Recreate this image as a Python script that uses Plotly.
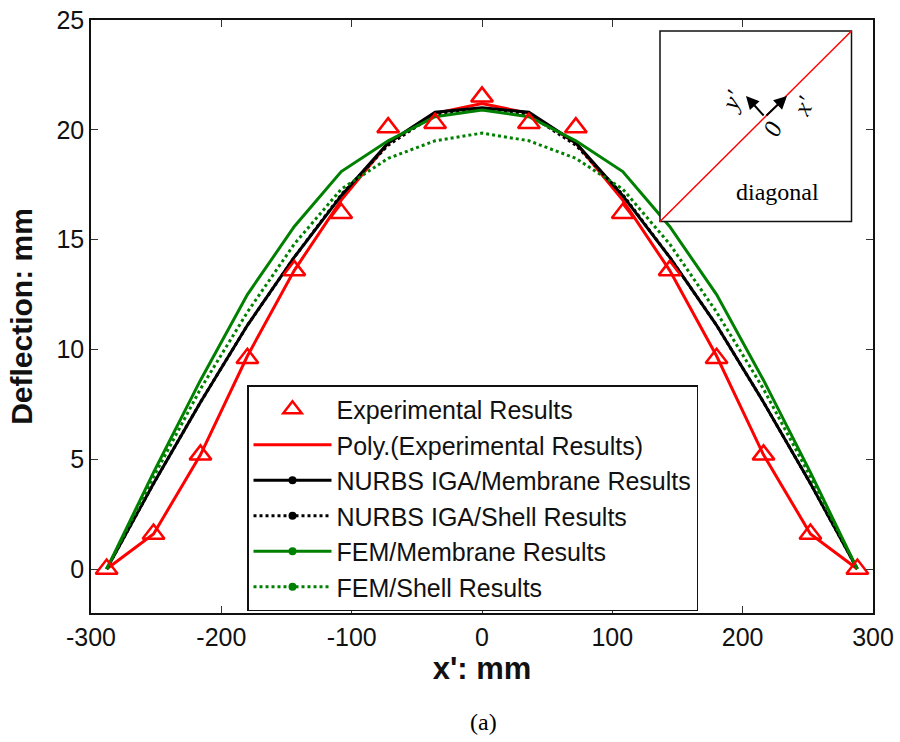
import plotly.graph_objects as go

# ---- data ----
x_pos = [-288, -252, -216, -180, -144, -108, -72, -36, 0, 36, 72, 108, 144, 180, 216, 252, 288]
experimental = [0, 1.6, 5.2, 9.6, 13.6, 16.2, 20.1, 20.3, 21.5, 20.3, 20.1, 16.2, 13.6, 9.6, 5.2, 1.6, 0]
poly_exp = [0, 1.6, 5.2, 9.7, 13.6, 16.8, 19.4, 20.75, 21.2, 20.75, 19.4, 16.8, 13.6, 9.7, 5.2, 1.6, 0]
nurbs_membrane = [0, 3.9, 7.6, 11.1, 14.2, 17.0, 19.4, 20.8, 21.0, 20.8, 19.4, 17.0, 14.2, 11.1, 7.6, 3.9, 0]
nurbs_shell = [0, 3.9, 7.6, 11.1, 14.2, 17.05, 19.3, 20.7, 20.95, 20.7, 19.3, 17.05, 14.2, 11.1, 7.6, 3.9, 0]
fem_membrane = [0, 4.4, 8.6, 12.5, 15.6, 18.1, 19.5, 20.6, 20.9, 20.6, 19.5, 18.1, 15.6, 12.5, 8.6, 4.4, 0]
fem_shell = [0, 4.2, 8.2, 11.7, 14.8, 17.3, 18.7, 19.5, 19.85, 19.5, 18.7, 17.3, 14.8, 11.7, 8.2, 4.2, 0]

names = ["Experimental Results", "Poly.(Experimental Results)", "NURBS IGA/Membrane Results",
         "NURBS IGA/Shell Results", "FEM/Membrane Results", "FEM/Shell Results"]
x_ticks = [-300, -200, -100, 0, 100, 200, 300]
y_ticks = [0, 5, 10, 15, 20, 25]

RED = "#ff0000"
GREEN = "#008000"
BLACK = "#000000"
FONT = "Liberation Sans"

fig = go.Figure()

# plotted curves (no legend)
fig.add_trace(go.Scatter(x=x_pos, y=poly_exp, mode="lines", line=dict(color=RED, width=3), showlegend=False))
fig.add_trace(go.Scatter(x=x_pos, y=nurbs_membrane, mode="lines", line=dict(color=BLACK, width=3), showlegend=False))
fig.add_trace(go.Scatter(x=x_pos, y=nurbs_shell, mode="lines", line=dict(color=BLACK, width=3, dash="dot"), showlegend=False))
fig.add_trace(go.Scatter(x=x_pos, y=fem_membrane, mode="lines", line=dict(color=GREEN, width=3), showlegend=False))
fig.add_trace(go.Scatter(x=x_pos, y=fem_shell, mode="lines", line=dict(color=GREEN, width=3, dash="dot"), showlegend=False))
fig.add_trace(go.Scatter(x=x_pos, y=experimental, mode="markers",
                         marker=dict(symbol="triangle-up-open", size=19, color=RED, line=dict(width=2.5, color=RED)),
                         showlegend=False))

# legend entries
fig.add_trace(go.Scatter(x=[None], y=[None], mode="markers", name=names[0],
                         marker=dict(symbol="triangle-up-open", size=16, color=RED, line=dict(width=2.5, color=RED))))
fig.add_trace(go.Scatter(x=[None], y=[None], mode="lines", name=names[1], line=dict(color=RED, width=3)))
fig.add_trace(go.Scatter(x=[None], y=[None], mode="lines+markers", name=names[2],
                         line=dict(color=BLACK, width=3), marker=dict(size=8, color=BLACK)))
fig.add_trace(go.Scatter(x=[None], y=[None], mode="lines+markers", name=names[3],
                         line=dict(color=BLACK, width=3, dash="dot"), marker=dict(size=8, color=BLACK)))
fig.add_trace(go.Scatter(x=[None], y=[None], mode="lines+markers", name=names[4],
                         line=dict(color=GREEN, width=3), marker=dict(size=8, color=GREEN)))
fig.add_trace(go.Scatter(x=[None], y=[None], mode="lines+markers", name=names[5],
                         line=dict(color=GREEN, width=3, dash="dot"), marker=dict(size=8, color=GREEN)))

axis_common = dict(showline=True, linecolor="#111111", linewidth=1.5, mirror="ticks",
                   ticks="inside", ticklen=7, tickwidth=1, tickcolor="#333333",
                   showgrid=False, zeroline=False,
                   tickfont=dict(family=FONT, size=25, color="#111111"))

fig.update_xaxes(range=[-300, 300], tickvals=x_ticks, ticktext=[str(v) for v in x_ticks],
                 title=dict(text="<b>x': mm</b>", font=dict(family=FONT, size=31, color="#111111"), standoff=4),
                 ticklabelstandoff=1, **axis_common)
fig.update_yaxes(range=[-2, 25], tickvals=y_ticks, ticktext=[str(v) for v in y_ticks],
                 title=dict(text="<b>Deflection: mm</b>", font=dict(family=FONT, size=30, color="#111111"), standoff=15),
                 ticklabelstandoff=0, **axis_common)

L, R, T, B = 91, 27, 20, 129
W, H = 900, 742
pw, ph = W - L - R, H - T - B

def px(xp):
    return (xp - L) / pw

def py(yp):
    return (H - B - yp) / ph

# inset sketch
shapes = [
    dict(type="rect", xref="paper", yref="paper", x0=px(660), x1=px(851.5), y0=py(221.5), y1=py(31),
         line=dict(color="#111111", width=1.5), fillcolor="white", layer="above"),
    dict(type="line", xref="paper", yref="paper", x0=px(660), y0=py(221.5), x1=px(851.5), y1=py(31),
         line=dict(color=RED, width=1.5), layer="above"),
]

serif_small = dict(family="Liberation Serif", size=25, color=BLACK)
annotations = [
    dict(xref="paper", yref="paper", x=px(787), y=py(96), ax=-22, ay=21,
         text="", showarrow=True, arrowhead=2, arrowsize=1.3, arrowwidth=2, arrowcolor=BLACK, standoff=0),
    dict(xref="paper", yref="paper", x=px(746), y=py(96), ax=19, ay=21,
         text="", showarrow=True, arrowhead=2, arrowsize=1.3, arrowwidth=2, arrowcolor=BLACK, standoff=0),
    dict(xref="paper", yref="paper", x=px(731), y=py(101), xanchor="center", yanchor="middle",
         text="<i>y'</i>", showarrow=False, textangle=-65, font=serif_small),
    dict(xref="paper", yref="paper", x=px(803), y=py(106), xanchor="center", yanchor="middle",
         text="<i>x'</i>", showarrow=False, textangle=-65, font=serif_small),
    dict(xref="paper", yref="paper", x=px(772), y=py(129), xanchor="center", yanchor="middle",
         text="<i>0</i>", showarrow=False, textangle=-65, font=serif_small),
    dict(xref="paper", yref="paper", x=px(777), y=py(192), xanchor="center", yanchor="middle",
         text="diagonal", showarrow=False, font=dict(family="Liberation Serif", size=24, color=BLACK)),
    dict(xref="paper", yref="paper", x=px(483), y=py(722), xanchor="center", yanchor="middle",
         text="(a)", showarrow=False, font=dict(family="Liberation Serif", size=24, color=BLACK)),
]

fig.update_layout(
    width=W, height=H,
    margin=dict(l=L, r=R, t=T, b=B, autoexpand=False),
    paper_bgcolor="white", plot_bgcolor="white",
    shapes=shapes, annotations=annotations,
    legend=dict(x=px(247), y=py(385), xanchor="left", yanchor="top",
                bgcolor="white", bordercolor="#111111", borderwidth=1.5,
                itemwidth=78, font=dict(family=FONT, size=25, color="#111111"),
                tracegroupgap=0),
)

fig.write_html("out.html")
